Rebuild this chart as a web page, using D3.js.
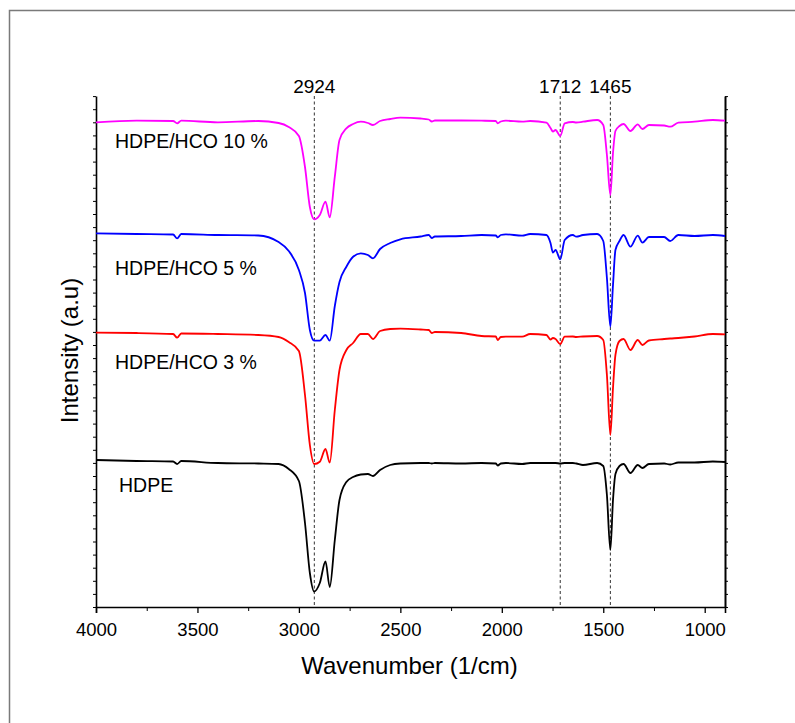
<!DOCTYPE html>
<html>
<head>
<meta charset="utf-8">
<script src="https://cdn.jsdelivr.net/npm/d3@7"></script>
<style>
  body { margin: 0; background: #fff; }
  text { font-family: "Liberation Sans", Arial, sans-serif; fill: #000; }
</style>
</head>
<body>
<div id="stage_id"></div>
<script>
// wavenumbers (1/cm) shared by all spectra
var wavenumbers = [4000, 3800, 3620, 3600, 3580, 3400, 3200, 3100, 3050, 3000, 2970, 2946, 2925, 2897, 2869, 2848, 2823, 2800, 2766, 2733,
  2695, 2660, 2635, 2600, 2550, 2500, 2400, 2360, 2345, 2330, 2200, 2100, 2030, 2020, 2005, 1980, 1900, 1860, 1780, 1760,
  1748, 1735, 1712, 1690, 1650, 1633, 1600, 1530, 1500, 1482, 1465, 1452, 1440, 1420, 1400, 1366, 1330, 1307, 1275, 1200,
  1170, 1130, 1050, 960, 900];

// intensity (a.u), spectra already stacked
var hdpe = [147, 146, 145.5, 143, 146, 144, 143.5, 143, 138, 126, 84, 34, 15.5, 24, 45.5, 20, 67, 107, 125, 130,
  132.5, 133, 131, 137, 142, 143.5, 144, 144, 143.5, 144, 143.5, 144, 143.5, 141.5, 143.5, 144, 143, 144, 144, 144,
  144, 144, 143.5, 144, 144, 143.5, 142, 144, 141, 112, 57, 107, 133, 141, 143, 134, 142, 139, 143, 143.5,
  142.5, 144.5, 144.5, 145.5, 145];
var hco3 = [274.3, 274, 273, 269.3, 273.5, 273, 272, 270, 265, 256, 212, 162, 143, 145.3, 158, 144.3, 197, 237, 257, 264,
  273, 273, 268, 276, 278, 278.3, 277.5, 277, 274, 275, 274, 271, 270.5, 267, 270, 270.3, 270.3, 273, 272, 267.5,
  269, 268, 263, 270.3, 270.5, 270, 270.5, 271, 267, 232, 172, 219, 252, 266, 268, 257, 267, 262, 266.5, 268,
  268.5, 269, 270.5, 273, 272.7];
var hco5 = [373.7, 373, 372.5, 368.7, 373, 372, 371.5, 365, 356, 337, 314, 277, 266.3, 266.3, 272, 266.3, 301, 325, 340.3, 350.3,
  353.7, 352, 348.7, 358, 364, 367.7, 370.5, 372, 369, 370.5, 371, 372, 371.5, 369.7, 372, 372.7, 371.3, 373, 372, 364,
  354.3, 357, 347.7, 367, 372, 370.3, 372, 373, 366, 329, 280.3, 322, 357, 366, 372, 360.3, 371.3, 364.3, 370, 370,
  366, 372, 371, 372, 371];
var hco10 = [484.7, 486.3, 486, 483.7, 486.3, 484.7, 486, 484, 480, 471, 440, 400, 387.7, 392, 405.3, 389.7, 430.3, 467, 478.7, 483,
  485.3, 484, 482, 486, 488, 489.3, 488.5, 487.5, 485.5, 486.5, 486.5, 486.3, 486, 483.7, 485.5, 486.3, 485.3, 486, 484.3, 479,
  475.5, 477, 471, 483.7, 485, 484.5, 485.3, 487, 482, 452, 412, 454, 476, 481, 483, 476, 482.7, 478, 482, 481.5,
  480.3, 484.3, 485.3, 487, 486.3];

var seriesNames = ["HDPE/HCO 10 %", "HDPE/HCO 5 %", "HDPE/HCO 3 %", "HDPE"];
var seriesValues = [hco10, hco5, hco3, hdpe];
var seriesColors = ["#ff00ff", "#0000ff", "#ff0000", "#000000"];

var xTicks = [4000, 3500, 3000, 2500, 2000, 1500, 1000];
var peakLines = [2924, 1712, 1465];

//************************************************************
// Margins, scales
//************************************************************
var W = 795, H = 723;
var margin = {top: 96, right: 70, bottom: 116, left: 96};
var width = W - margin.left - margin.right;
var height = H - margin.top - margin.bottom;

var svg = d3.select("#stage_id").append("svg")
  .attr("width", W)
  .attr("height", H);

// outer frame
svg.append("rect")
  .attr("x", 9.5).attr("y", 10.5)
  .attr("width", W).attr("height", H)
  .attr("fill", "none")
  .attr("stroke", "#7a7a7a")
  .attr("stroke-width", 1.5);

var g = svg.append("g").attr("transform", "translate(" + margin.left + "," + margin.top + ")");

var xScale = d3.scaleLinear().domain([4000, 900]).range([0, width]);
var yScale = d3.scaleLinear().domain([0, 511]).range([height, 0]);

//************************************************************
// Axes
//************************************************************
var xAxis = d3.axisBottom(xScale)
  .tickValues(xTicks)
  .tickFormat(d3.format("d"))
  .tickSize(6)
  .tickPadding(10);

var gx = g.append("g")
  .attr("transform", "translate(0," + height + ")")
  .call(xAxis);
gx.select(".domain").attr("stroke-width", 1.6);
gx.selectAll(".tick line").attr("stroke-width", 1.3);
gx.selectAll("text")
  .style("font-size", "18.5px")
  .style("font-family", "'Liberation Sans', Arial, sans-serif");

var xMinor = d3.axisBottom(xScale)
  .tickValues(d3.range(3750, 900, -500))
  .tickFormat("")
  .tickSize(4);
var gxm = g.append("g").attr("transform", "translate(0," + height + ")").call(xMinor);
gxm.select(".domain").remove();

var yMinorVals = d3.range(0, 511, 13.1);

var gyl = g.append("g").call(d3.axisLeft(yScale).tickValues(yMinorVals).tickFormat("").tickSize(3).tickSizeOuter(0));
gyl.select(".domain").attr("stroke-width", 1.6);

var gyr = g.append("g")
  .attr("transform", "translate(" + width + ",0)")
  .call(d3.axisRight(yScale).tickValues(yMinorVals).tickFormat("").tickSize(3).tickSizeOuter(0));
gyr.select(".domain").attr("stroke-width", 2);

//************************************************************
// Peak marker lines
//************************************************************
g.selectAll(".peak")
  .data(peakLines)
  .enter()
  .append("line")
  .attr("class", "peak")
  .attr("x1", function(d) { return xScale(d); })
  .attr("x2", function(d) { return xScale(d); })
  .attr("y1", 0)
  .attr("y2", height)
  .attr("stroke", "#333")
  .attr("stroke-width", 1)
  .attr("stroke-dasharray", "3,2.5");

g.selectAll(".peakLabel")
  .data(peakLines)
  .enter()
  .append("text")
  .attr("class", "peakLabel")
  .attr("x", function(d) { return xScale(d); })
  .attr("y", -3)
  .attr("text-anchor", "middle")
  .style("font-size", "19px")
  .text(function(d) { return d; });

//************************************************************
// Spectra
//************************************************************
var line = d3.line()
  .x(function(d, i) { return xScale(wavenumbers[i]); })
  .y(function(d) { return yScale(d); })
  .curve(d3.curveMonotoneX);

g.selectAll(".spectrum")
  .data(seriesValues)
  .enter()
  .append("path")
  .attr("class", "spectrum")
  .attr("d", line)
  .attr("fill", "none")
  .attr("stroke", function(d, i) { return seriesColors[i]; })
  .attr("stroke-width", 1.8)
  .attr("stroke-linejoin", "round");

// series labels, placed under each baseline (baseline of text in a.u.)
var labelY = [459, 332, 238, 115];
g.selectAll(".seriesLabel")
  .data(seriesNames)
  .enter()
  .append("text")
  .attr("class", "seriesLabel")
  .attr("x", function(d, i) { return i == 3 ? 23 : 19; })
  .attr("y", function(d, i) { return yScale(labelY[i]); })
  .style("font-size", "19.5px")
  .text(function(d) { return d; });

//************************************************************
// Axis titles
//************************************************************
svg.append("text")
  .attr("x", margin.left + width / 2 - 1)
  .attr("y", 674)
  .attr("text-anchor", "middle")
  .style("font-size", "24px")
  .text("Wavenumber (1/cm)");

svg.append("text")
  .attr("transform", "translate(78," + (margin.top + height / 2 - 1) + ") rotate(-90)")
  .attr("text-anchor", "middle")
  .style("font-size", "24px")
  .text("Intensity (a.u)");
</script>
</body>
</html>
